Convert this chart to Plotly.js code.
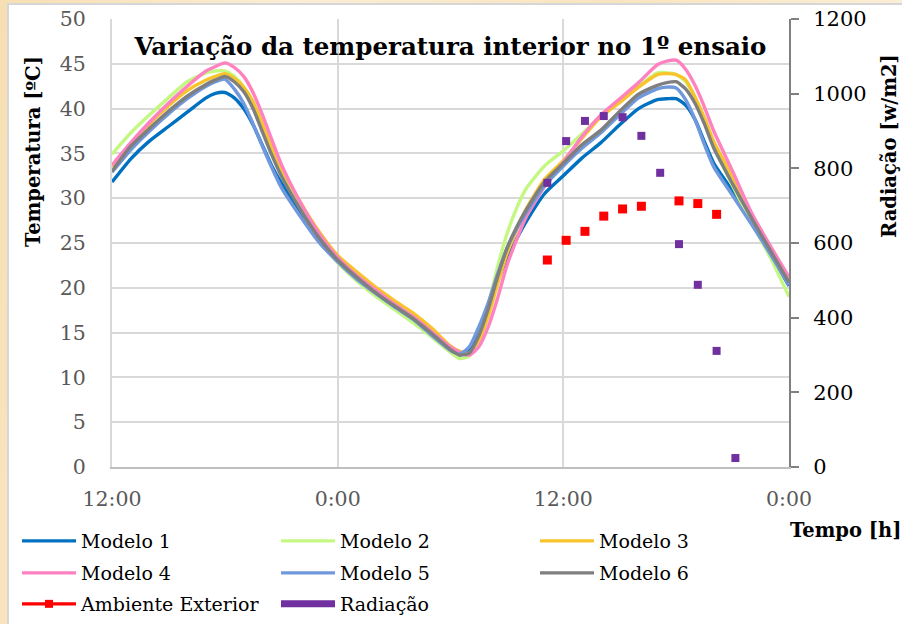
<!DOCTYPE html>
<html>
<head>
<meta charset="utf-8">
<script src="https://cdn.plot.ly/plotly-3.0.1.min.js"></script>
<style>
  html, body { margin:0; padding:0; width:902px; height:624px; overflow:hidden;
    background: linear-gradient(100deg, #f6dfb2 0%, #fbeed6 30%, #f8e4bf 60%, #fdf2de 100%); }
  #frame { position:absolute; left:7px; top:3px; width:905px; height:630px;
    background:#ffffff; border-left:2px solid #d6d6d6; border-top:2px solid #d6d6d6; }
  #chart { position:absolute; left:0; top:0; width:902px; height:624px; }
</style>
</head>
<body>
<div id="frame"></div>
<div id="chart"></div>
<script>
// time in hours from 12:00 of day 1
const hours = [0,1,2,3,4,5,5.5,6,6.5,7,7.5,8,8.5,9,10,11,12,13,14,15,16,17,18,18.5,19,19.5,20,20.5,21,21.5,22,23,24,25,26,27,28,29,29.5,30,30.5,31,31.5,32,33,34,35,36];

const modelo1 = [31.8,34.4,36.4,38.0,39.6,41.2,41.7,41.8,41.2,40.0,38.2,35.9,33.6,31.7,28.4,25.3,23.0,21.0,19.4,17.9,16.5,14.8,13.0,12.5,13.2,15.3,17.8,20.7,23.3,25.4,27.3,30.5,32.5,34.5,36.2,38.2,40.0,41.0,41.1,41.1,40.4,38.8,36.3,33.9,30.8,27.4,23.9,20.2];
const modelo2 = [34.9,37.3,39.3,41.2,43.0,44.0,44.2,44.2,43.6,42.4,40.4,37.8,35.2,32.8,28.9,25.5,22.8,20.8,19.1,17.6,16.1,14.5,12.8,12.1,12.4,14.5,18.0,22.3,26.0,28.8,31.0,33.6,35.3,37.2,39.2,40.8,42.5,44.0,44.0,43.8,43.0,41.2,38.6,35.8,31.4,27.3,23.4,19.0];
const modelo3 = [33.5,36.0,38.3,40.3,42.0,43.2,43.6,43.9,43.4,42.4,40.8,38.3,35.6,33.3,29.6,26.3,23.6,21.8,20.1,18.6,17.2,15.5,13.5,12.9,12.7,14.1,16.8,20.4,23.8,26.4,28.7,32.1,34.2,36.7,39.1,40.7,42.4,43.8,43.9,43.8,43.2,41.3,39.0,36.3,32.4,28.2,24.6,21.0];
const modelo4 = [33.7,36.2,38.5,40.6,42.5,44.2,44.7,45.1,44.6,43.6,41.8,39.3,36.5,33.8,29.6,26.1,23.4,21.4,19.8,18.2,16.8,15.1,13.4,12.8,12.5,13.4,15.6,18.8,22.5,25.3,27.8,31.3,34.0,36.9,39.3,41.1,42.9,44.9,45.3,45.4,44.4,42.6,40.2,37.5,33.0,28.4,24.7,21.2];
const modelo5 = [32.9,35.4,37.5,39.4,41.1,42.5,43.0,43.3,42.2,40.6,38.3,35.8,33.4,31.2,28.0,25.1,22.9,21.0,19.4,17.9,16.5,14.7,13.0,12.6,13.4,15.6,18.3,21.5,24.4,26.5,28.3,31.4,33.6,35.6,37.3,39.3,41.2,42.2,42.4,42.3,41.0,38.8,36.0,33.5,30.3,27.1,23.8,20.3];
const modelo6 = [33.0,35.8,37.8,39.7,41.4,42.7,43.2,43.6,43.0,41.9,40.0,37.4,34.8,32.5,28.8,25.6,23.1,21.2,19.5,18.0,16.6,14.9,13.1,12.5,12.7,14.6,17.6,21.2,24.4,26.7,28.6,31.8,33.9,36.0,37.6,39.7,41.6,42.6,42.9,43.0,42.2,40.6,38.3,35.6,31.6,27.8,24.2,20.6];

// hourly measurements on day 2
const measHours = [23.15,24.15,25.15,26.15,27.15,28.15,29.15,30.15,31.15,32.15,33.15];
const ambienteExterior = [23.1,25.3,26.3,28.0,28.8,29.1,null,29.7,29.4,28.2,null];
const radiacao = [761,873,927,940,937,887,788,597,488,311,24];

const tickVals = [0,12,24,36];
const tickText = ['12:00','0:00','12:00','0:00'];

const seriesNames = ['Modelo 1','Modelo 2','Modelo 3','Modelo 4','Modelo 5','Modelo 6'];
const seriesData = [modelo1,modelo2,modelo3,modelo4,modelo5,modelo6];
const seriesColors = ['#0070c0','#c4f883','#f7c52b','#ff82c0','#7098dc','#7f7f7f'];
const seriesLegend = ['legend','legend','legend','legend2','legend2','legend2'];

const traces = seriesData.map((d,i)=>({
  x: hours, y: d, name: seriesNames[i], type:'scatter', mode:'lines', legend: seriesLegend[i],
  line:{color:seriesColors[i], width:3.4, shape:'spline', smoothing:0.6},
  hoverinfo:'skip'
}));

traces.push({x: measHours, y: ambienteExterior, name:'Ambiente Exterior', type:'scatter', mode:'markers',
  marker:{symbol:'square', size:9, color:'#ff0000'}, showlegend:false, hoverinfo:'skip'});
traces.push({x: measHours, y: radiacao, name:'Radiação', type:'scatter', mode:'markers', yaxis:'y2',
  marker:{symbol:'square', size:8, color:'#7030a0'}, showlegend:false, hoverinfo:'skip'});
// legend entries
traces.push({x:[null], y:[null], name:'Ambiente Exterior', type:'scatter', mode:'lines+markers', legend:'legend3',
  line:{color:'#ff0000', width:3.4}, marker:{symbol:'square', size:8, color:'#ff0000'}});
traces.push({x:[null], y:[null], name:'Radiação', type:'scatter', mode:'lines', legend:'legend3',
  line:{color:'#7030a0', width:7}});

const serif = 'DejaVu Serif, serif';
function legendRow(yPix){
  return {orientation:'h', xref:'paper', yref:'paper', x:(17-112)/677, y:(467-yPix)/448,
    xanchor:'left', yanchor:'middle', entrywidth:190, entrywidthmode:'pixels', itemwidth:54,
    bgcolor:'rgba(0,0,0,0)', borderwidth:0, font:{family:serif, size:19, color:'#000'}};
}
const layout = {
  width: 902, height: 624,
  margin:{l:112, r:113, t:19, b:157, autoexpand:false},
  paper_bgcolor:'rgba(0,0,0,0)', plot_bgcolor:'#ffffff',
  showlegend:true,
  font:{family:serif, color:'#000'},
  title:{text:'<b>Variação da temperatura interior no 1º ensaio</b>', font:{family:serif, size:24.5, color:'#000'},
    x:0.5, xref:'paper', xanchor:'center', y:1-46/624, yref:'container', yanchor:'middle'},
  xaxis:{range:[0,36], tickvals:tickVals, ticktext:tickText, showgrid:true, gridcolor:'#d9d9d9', gridwidth:2,
    zeroline:false, showline:true, linecolor:'#bfbfbf', linewidth:2, ticks:'', ticklabelstandoff:12,
    tickfont:{family:serif, size:20.5, color:'#595959'}},
  yaxis:{range:[0,50], dtick:5, showgrid:true, gridcolor:'#d9d9d9', gridwidth:2, zeroline:false,
    showline:true, linecolor:'#d9d9d9', linewidth:2, ticks:'', ticklabelstandoff:20,
    tickfont:{family:serif, size:20.5, color:'#595959'}},
  yaxis2:{range:[0,1200], dtick:200, overlaying:'y', side:'right', showgrid:false, zeroline:false,
    showline:true, linecolor:'#808080', linewidth:2, ticks:'outside', ticklen:8, tickwidth:2, tickcolor:'#808080',
    ticklabelstandoff:10, tickfont:{family:serif, size:21, color:'#000'}},
  legend: legendRow(541),
  legend2: legendRow(573),
  legend3: legendRow(604),
  annotations:[
    {text:'<b>Temperatura [ºC]</b>', xref:'paper', yref:'paper', x:(33-112)/677, y:(467-152)/448, textangle:-90,
      showarrow:false, font:{family:serif, size:19.5, color:'#000'}, xanchor:'center', yanchor:'middle'},
    {text:'<b>Radiação [w/m2]</b>', xref:'paper', yref:'paper', x:(889-112)/677, y:(467-146)/448, textangle:-90,
      showarrow:false, font:{family:serif, size:19.5, color:'#000'}, xanchor:'center', yanchor:'middle'},
    {text:'<b>Tempo [h]</b>', xref:'paper', yref:'paper', x:(845-112)/677, y:(467-530)/448,
      showarrow:false, font:{family:serif, size:19.5, color:'#000'}, xanchor:'center', yanchor:'middle'}
  ]
};
Plotly.newPlot('chart', traces, layout, {staticPlot:true, displayModeBar:false});
</script>
</body>
</html>
